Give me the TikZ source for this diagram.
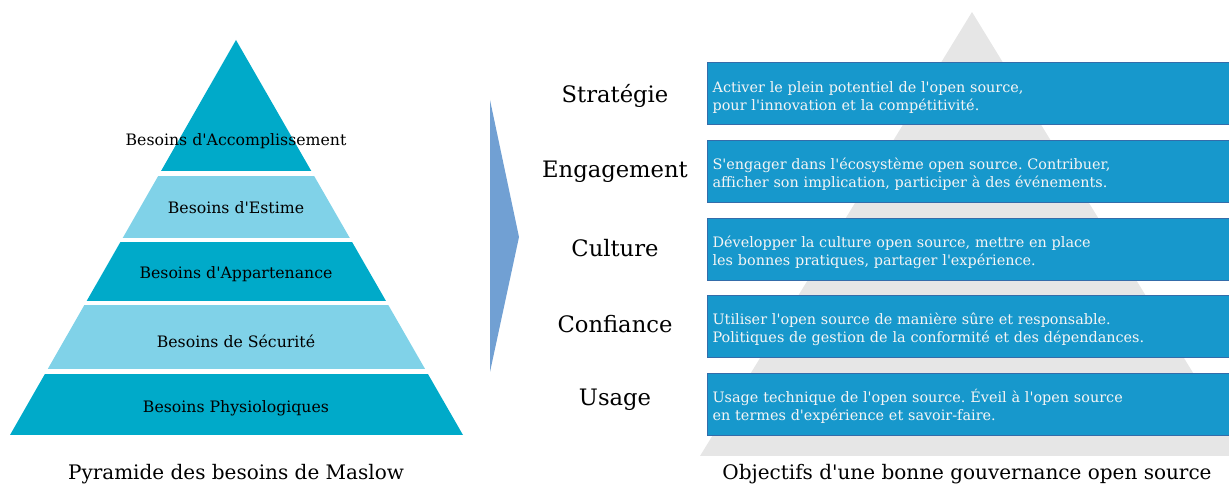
\documentclass[tikz,border=0pt]{standalone}
\usepackage{fontspec}
\newfontfamily\dvserif{DejaVu Serif}
\frenchspacing

\definecolor{pyrdark}{RGB}{0,170,201}
\definecolor{pyrlight}{RGB}{128,210,232}
\definecolor{chevron}{RGB}{113,160,211}
\definecolor{govgray}{RGB}{230,230,230}
\definecolor{goalblue}{RGB}{23,152,204}
\definecolor{goalline}{RGB}{52,108,170}
\definecolor{goaltext}{RGB}{245,245,245}

\begin{document}
\begin{tikzpicture}[x=0.75pt, y=-0.75pt,
  band/.style={font=\dvserif\fontsize{11.8}{14}\selectfont},
  level/.style={font=\dvserif\fontsize{17}{20}\selectfont},
  goal/.style={draw=goalline, fill=goalblue, text=goaltext, anchor=west,
    minimum width=420pt, minimum height=46.5pt, text width=412pt,
    align=left, inner xsep=4pt, inner ysep=3pt,
    font=\dvserif\fontsize{10.8}{13.5}\selectfont,
    execute at begin node={\rule{0pt}{14pt}}},
  caption/.style={font=\dvserif\fontsize{15}{18}\selectfont}]

\useasboundingbox (0,0) rectangle (1229,484);
\clip (0,0) rectangle (1229,484);

% grey pyramid behind the goals
\fill[govgray] (972,12) -- (1244,456) -- (700,456) -- cycle;

% Maslow pyramid
\begin{scope}
\clip (236,40) -- (463,435) -- (10,435) -- cycle;
\fill[pyrdark] (0,0) rectangle (480,171);
\fill[pyrlight] (0,176) rectangle (480,238);
\fill[pyrdark] (0,242) rectangle (480,301);
\fill[pyrlight] (0,305) rectangle (480,369);
\fill[pyrdark] (0,374) rectangle (480,435);
\end{scope}

\node[band] (b5) at (236,141) {Besoins d'Accomplissement};
\node[band] (b4) at (236,208) {Besoins d'Estime};
\node[band] (b3) at (236,274) {Besoins d'Appartenance};
\node[band] (b2) at (236,341) {Besoins de Sécurité};
\node[band] (b1) at (236,408) {Besoins Physiologiques};

% chevron
\fill[chevron] (490,100) -- (519,237) -- (490,372) -- cycle;

% levels
\node[level] (strat) at (615,96) {Stratégie};
\node[level] (engag) at (615,172) {Engagement};
\node[level] (cult) at (615,248) {Culture};
\node[level] (conf) at (615,324) {Confiance};
\node[level] (usage) at (615,400) {Usage};

% goals
\node[goal] (g5) at (707,93.5) {Activer le plein potentiel de l'open source,\\pour l'innovation et la compétitivité.};
\node[goal] (g4) at (707,171) {S'engager dans l'écosystème open source. Contribuer,\\afficher son implication, participer à des événements.};
\node[goal] (g3) at (707,249) {Développer la culture open source, mettre en place\\les bonnes pratiques, partager l'expérience.};
\node[goal] (g2) at (707,326) {Utiliser l'open source de manière sûre et responsable.\\Politiques de gestion de la conformité et des dépendances.};
\node[goal] (g1) at (707,404) {Usage technique de l'open source. Éveil à l'open source\\en termes d'expérience et savoir-faire.};

% captions
\node[caption] (capl) at (236,474) {Pyramide des besoins de Maslow};
\node[caption] (capr) at (967,474) {Objectifs d'une bonne gouvernance open source};

\end{tikzpicture}
\end{document}
